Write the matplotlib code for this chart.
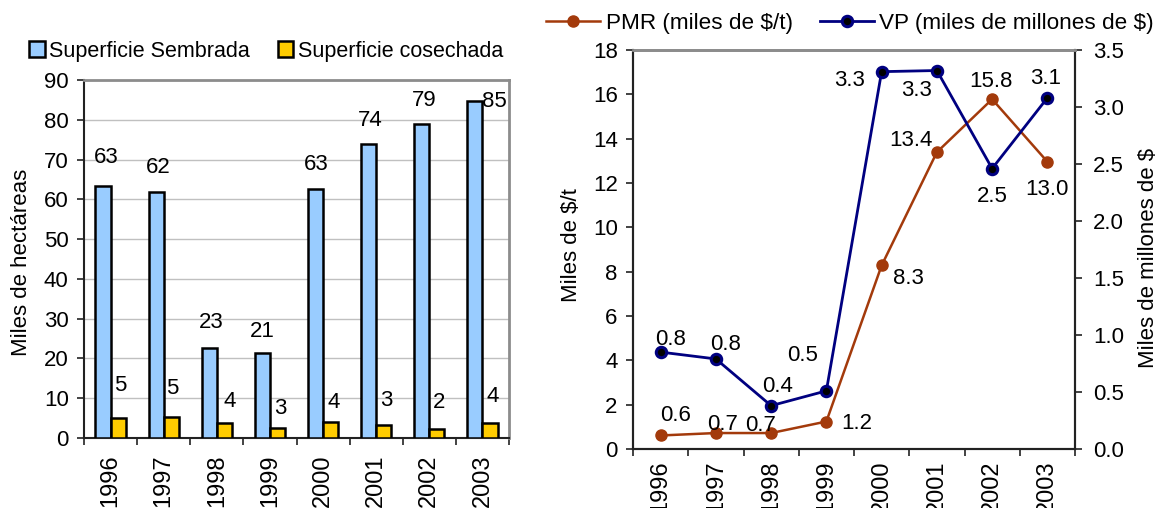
import numpy as np
import matplotlib
matplotlib.use("Agg")
import matplotlib.pyplot as plt
from matplotlib.patches import Patch
from matplotlib.lines import Line2D

plt.rcParams['font.family'] = ['Liberation Sans', 'DejaVu Sans']

years = ['1996', '1997', '1998', '1999', '2000', '2001', '2002', '2003']

# left chart: thousands of hectares
sembrada = [63.4, 61.9, 22.6, 21.3, 62.6, 73.8, 78.9, 84.6]
cosechada = [5.1, 5.3, 3.8, 2.6, 4.0, 3.2, 2.2, 3.8]

# right chart
pmr = [0.61, 0.72, 0.72, 1.24, 8.28, 13.39, 15.78, 12.96]   # miles de $/t
vp = [0.85, 0.79, 0.38, 0.51, 3.31, 3.32, 2.46, 3.08]       # miles de millones de $

blue = '#99CCFF'
yellow = '#FFCC00'
brown = '#A33A0B'
navy = '#000080'
dark = '#222222'
gray = '#8C8C8C'
fs = 16
fs_year = 17

fig = plt.figure(figsize=(11.67, 5.08), dpi=100)
W, H = 1167, 508

def axes_px(x0, x1, ytop, ybot):
    return fig.add_axes([x0 / W, 1 - ybot / H, (x1 - x0) / W, (ybot - ytop) / H])

# ---------------- left: bars ----------------
ax = axes_px(84, 509, 80, 438)
x = np.arange(len(years))
bw = 0.285
ax.bar(x - bw / 2, sembrada, bw, color=blue, edgecolor='black', linewidth=1.8, zorder=3)
ax.bar(x + bw / 2, cosechada, bw, color=yellow, edgecolor='black', linewidth=1.8, zorder=3)

off_s = [(3, 28), (2, 24), (2, 26), (0, 22), (1, 24), (2, 24), (2, 24), (20, 0)]
off_c = [(2, 32), (1, 28), (5, 21), (3, 19), (3, 20), (3, 25), (2, 27), (3, 26)]
for i in range(len(years)):
    ax.annotate(f'{sembrada[i]:.0f}', (x[i] - bw / 2, sembrada[i]), xytext=off_s[i],
                textcoords='offset pixels', ha='center', va='center', fontsize=fs)
    ax.annotate(f'{cosechada[i]:.0f}', (x[i] + bw / 2, cosechada[i]), xytext=off_c[i],
                textcoords='offset pixels', ha='center', va='center', fontsize=fs)

ax.set_xlim(-0.5, len(years) - 0.5)
ax.set_ylim(0, 90)
ax.set_yticks(np.arange(0, 91, 10))
ax.grid(axis='y', color='#C0C0C0', linewidth=1, zorder=0)
ax.set_xticks(x)
ax.set_xticklabels(years, rotation=90, fontsize=fs_year)
ax.set_xticks(np.arange(-0.5, len(years)), minor=True)
ax.tick_params(axis='x', which='major', length=0, pad=12)
ax.tick_params(axis='x', which='minor', length=5, width=1.2, color=dark, direction='out')
ax.tick_params(axis='y', length=5, width=1.2, color=dark, labelsize=fs, pad=6)
ax.set_ylabel('Miles de hectáreas', fontsize=fs)
ax.yaxis.set_label_coords((32 - 84) / 425, 0.49)
for s in ['left', 'bottom']:
    ax.spines[s].set_color(dark)
    ax.spines[s].set_linewidth(1.5)
for s in ['top', 'right']:
    ax.spines[s].set_color(gray)
    ax.spines[s].set_linewidth(2)

fig.legend(handles=[Patch(facecolor=blue, edgecolor='black', linewidth=1.8, label='Superficie Sembrada'),
                    Patch(facecolor=yellow, edgecolor='black', linewidth=1.8, label='Superficie cosechada')],
           loc='center left', bbox_to_anchor=(29 / W, 1 - 51 / H), ncol=2, frameon=False,
           fontsize=15.5, borderpad=0, borderaxespad=0, handlelength=0.72, handleheight=0.72,
           handletextpad=0.22, columnspacing=1.3)

# ---------------- right: lines ----------------
axl = axes_px(633, 1075, 50, 449)
axr = axl.twinx()
xl = np.arange(len(years))
axl.plot(xl, pmr, color=brown, linewidth=1.8, marker='o', markersize=8, zorder=3)
axr.plot(xl, vp, color=navy, linewidth=2, marker='o', markersize=7.5,
         markerfacecolor='black', markeredgecolor=navy, markeredgewidth=2.2, zorder=3)

off_p = [(15, 20), (7, 9), (-11, 8), (30, -2), (27, -13), (-26, 12), (-1, 18), (0, -28)]
off_v = [(10, 13), (10, 14), (6, 19), (-24, 35), (-32, -9), (-20, -20), (0, -28), (-2, 19)]
for i in range(len(years)):
    axl.annotate(f'{pmr[i]:.1f}', (xl[i], pmr[i]), xytext=off_p[i], textcoords='offset pixels',
                 ha='center', va='center', fontsize=fs)
    axr.annotate(f'{vp[i]:.1f}', (xl[i], vp[i]), xytext=off_v[i], textcoords='offset pixels',
                 ha='center', va='center', fontsize=fs)

axl.set_xlim(-0.5, len(years) - 0.5)
axl.set_ylim(0, 18)
axl.set_yticks(np.arange(0, 19, 2))
axr.set_ylim(0, 3.5)
axr.set_yticks(np.arange(0, 3.51, 0.5))
axr.set_yticklabels([f'{v:.1f}' for v in np.arange(0, 3.51, 0.5)])
axl.set_xticks(xl)
axl.set_xticklabels(years, rotation=90, fontsize=fs_year)
axl.set_xticks(np.arange(-0.5, len(years)), minor=True)
axl.tick_params(axis='x', which='major', length=0, pad=8)
axl.tick_params(axis='x', which='minor', length=5, width=1.2, color=dark, direction='out')
axl.tick_params(axis='y', length=5, width=1.2, color=dark, labelsize=fs, pad=6)
axr.tick_params(axis='y', length=5, width=1.2, color=dark, labelsize=fs, pad=8)
axl.set_ylabel('Miles de $/t', fontsize=fs)
axl.yaxis.set_label_coords((582 - 633) / 442, 0.51)
axr.set_ylabel('Miles de millones de $', fontsize=fs)
axr.yaxis.set_label_coords((1138 - 633) / 442, 0.48)
for a in (axl, axr):
    for s in ['left', 'bottom', 'right']:
        a.spines[s].set_color(dark)
        a.spines[s].set_linewidth(1.5)
    a.spines['top'].set_color(gray)
    a.spines['top'].set_linewidth(2)

fig.legend(handles=[Line2D([], [], color=brown, linewidth=1.8, marker='o', markersize=8,
                           label='PMR (miles de $/t)'),
                    Line2D([], [], color=navy, linewidth=2, marker='o', markersize=7.5,
                           markerfacecolor='black', markeredgecolor=navy, markeredgewidth=2.2,
                           label='VP (miles de millones de $)')],
           loc='center left', bbox_to_anchor=(546 / W, 1 - 23 / H), ncol=2, frameon=False,
           fontsize=16.2, borderpad=0, borderaxespad=0, handlelength=2.4,
           handletextpad=0.25, columnspacing=1.2)

fig.savefig('out.png', dpi=100)
